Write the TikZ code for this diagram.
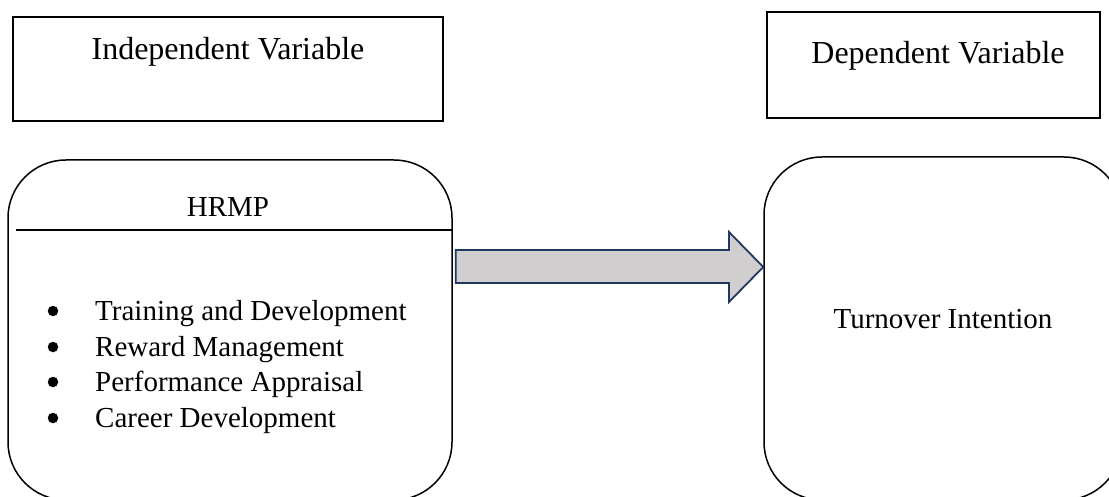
\documentclass[tikz,border=0pt]{standalone}
\usepackage{fontspec}
\setmainfont{Liberation Serif}
\definecolor{arrowfill}{HTML}{D0CECE}
\definecolor{arrowline}{HTML}{1F3864}
\begin{document}
\begin{tikzpicture}[x=1pt,y=-1pt,
  hdrbox/.style={draw, line width=1.6pt, inner sep=0pt},
  roundbox/.style={draw, line width=1.5pt, rounded corners=58pt, inner sep=0pt},
  hdrtext/.style={anchor=base, inner sep=0pt, font=\fontsize{32}{38}\selectfont},
  bodytext/.style={anchor=base, inner sep=0pt, font=\fontsize{29}{35}\selectfont},
  itemtext/.style={anchor=base west, inner sep=0pt, font=\fontsize{29}{35}\selectfont},
  bulletdot/.style={circle, fill, inner sep=0pt, minimum size=10.5pt},
  bigarrow/.style={draw=arrowline, fill=arrowfill, line width=1.8pt, line join=miter}]
\useasboundingbox (0,0) rectangle (1109,497);
% header boxes
\node[hdrbox, minimum width=430pt, minimum height=104pt] (indep) at (228,69) {};
\node[hdrtext] (indeptxt) at (228,60) {Independent Variable};
\node[hdrbox, minimum width=333pt, minimum height=106pt] (dep) at (933.5,65) {};
\node[hdrtext] (deptxt) at (938,64) {Dependent Variable};
% main boxes
\node[roundbox, minimum width=444pt, minimum height=340pt] (hrmp) at (230,330) {};
\node[bodytext] (hrmptxt) at (228,217) {HRMP};
\coordinate (divl) at (16,230);
\coordinate (divr) at (453,230);
\draw[line width=1.5pt] (divl) -- (divr);
\node[bulletdot] (b1) at (53,311) {};
\node[itemtext] (i1) at (95,320) {Training and Development};
\node[bulletdot] (b2) at (53,347) {};
\node[itemtext] (i2) at (95,356) {Reward Management};
\node[bulletdot] (b3) at (53,382) {};
\node[itemtext] (i3) at (95,391) {Performance Appraisal};
\node[bulletdot] (b4) at (53,418) {};
\node[itemtext] (i4) at (95,427) {Career Development};
\node[roundbox, minimum width=358pt, minimum height=343pt] (turn) at (943,328.5) {};
\node[bodytext] (turntxt) at (943,328) {Turnover Intention};
% block arrow from HRMP box to Turnover box
\coordinate (atailtop) at ([xshift=3pt]hrmp.east |- 0,250);
\coordinate (atailbot) at ([xshift=3pt]hrmp.east |- 0,283);
\coordinate (atip) at (turn.west |- 0,267);
\draw[bigarrow] (atailtop) -- (729,250) -- (729,232) -- (atip)
  -- (729,302) -- (729,283) -- (atailbot) -- cycle;
\end{tikzpicture}
\end{document}
